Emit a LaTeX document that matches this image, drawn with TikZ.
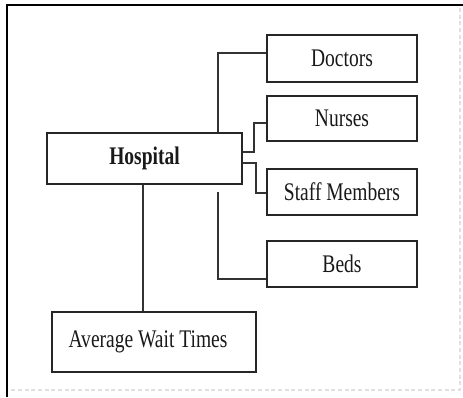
\documentclass[tikz,border=0pt]{standalone}
\usepackage{fontspec}
\setmainfont{Liberation Serif}[FakeStretch=0.77]
\begin{document}
\begin{tikzpicture}[x=0.75pt,y=-0.75pt,
  box/.style={draw=black!85,line width=1.3pt,inner sep=0pt,minimum width=112.5pt,
    font=\fontsize{19}{21}\selectfont,text=black!90},
  link/.style={draw=black!80,line width=1pt},
  frame/.style={draw=black,line width=2pt},
  faint/.style={draw=black!12,line width=0.8pt,dash pattern=on 3pt off 2pt}]
\useasboundingbox (0,0) rectangle (463,397);
\fill[white] (0,0) rectangle (463,397);
% outer frame
\draw[frame] (7,397) -- (7,5) -- (463,5);
\draw[faint] (460,8) -- (460,390) -- (9,390);
% boxes
\node[box,minimum height=35.25pt] (doc) at (342,58.5) {\raisebox{-1.5pt}{Doctors}};
\node[box,minimum height=33.75pt] (nur) at (342,118.5) {Nurses};
\node[box,minimum height=34.5pt] (stf) at (342,192) {Staff Members};
\node[box,minimum height=34.5pt] (bed) at (342,264) {Beds};
\node[box,minimum width=146.25pt,minimum height=38.25pt,font=\fontsize{19}{21}\selectfont\bfseries] (hos) at (144.5,158.5) {Hospital};
\node[box,minimum width=153pt,minimum height=45pt] (avg) at (154,342) {\hspace*{-9pt}Average Wait Times};
% connectors
\coordinate (jd) at (218,0);
\coordinate (bt) at (218,192);
\coordinate (ja) at (143,0);
\draw[link] (hos.north -| jd) |- ([yshift=4.1pt]doc.west);
\draw[link] ([yshift=4.9pt]hos.east) -- ++(11,0) |- ([yshift=-3.4pt]nur.west);
\draw[link] ([yshift=-3.4pt]hos.east) -- ++(13,0) |- ([yshift=-0.75pt]stf.west);
\draw[link] (bt) |- ([yshift=-11.25pt]bed.west);
\draw[link] (hos.south -| ja) -- (avg.north -| ja);
\end{tikzpicture}
\end{document}
